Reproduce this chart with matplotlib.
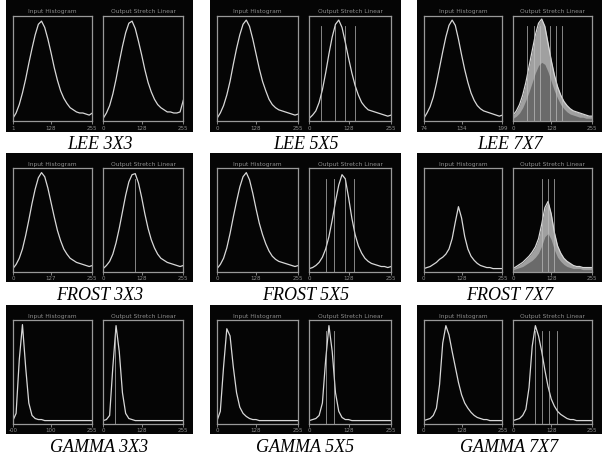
import matplotlib
matplotlib.use("Agg")
import matplotlib.pyplot as plt

# histogram bins, percent of the plotted grey range
bins = [0, 4, 8, 12, 16, 20, 24, 28, 32, 36, 40, 44, 48, 52, 56, 60, 64, 68, 72, 76, 80, 84, 88, 92, 96, 100]

captions = ["LEE 3X3", "LEE 5X5", "LEE 7X7",
            "FROST 3X3", "FROST 5X5", "FROST 7X7",
            "GAMMA 3X3", "GAMMA 5X5", "GAMMA 7X7"]

# input histograms (fraction of box height)
lee3_in   = [0.03, 0.08, 0.16, 0.27, 0.40, 0.55, 0.69, 0.82, 0.92, 0.95, 0.89, 0.78, 0.65, 0.51, 0.39, 0.29, 0.22, 0.17, 0.13, 0.11, 0.09, 0.08, 0.08, 0.07, 0.06, 0.08]
lee5_in   = [0.03, 0.08, 0.15, 0.25, 0.38, 0.54, 0.69, 0.82, 0.92, 0.96, 0.90, 0.78, 0.64, 0.50, 0.38, 0.29, 0.21, 0.16, 0.13, 0.11, 0.10, 0.09, 0.08, 0.07, 0.06, 0.07]
lee7_in   = [0.03, 0.08, 0.14, 0.23, 0.36, 0.51, 0.66, 0.80, 0.91, 0.96, 0.91, 0.78, 0.63, 0.49, 0.37, 0.27, 0.20, 0.15, 0.12, 0.10, 0.09, 0.08, 0.07, 0.06, 0.05, 0.06]
frost3_in = [0.03, 0.07, 0.13, 0.22, 0.35, 0.50, 0.66, 0.80, 0.91, 0.96, 0.92, 0.81, 0.67, 0.53, 0.40, 0.30, 0.22, 0.17, 0.13, 0.11, 0.09, 0.08, 0.07, 0.06, 0.05, 0.06]
frost5_in = [0.03, 0.07, 0.13, 0.23, 0.37, 0.53, 0.68, 0.82, 0.92, 0.96, 0.89, 0.76, 0.61, 0.47, 0.36, 0.27, 0.20, 0.15, 0.12, 0.10, 0.09, 0.08, 0.07, 0.06, 0.05, 0.06]
frost7_in = [0.03, 0.04, 0.05, 0.07, 0.09, 0.12, 0.14, 0.17, 0.22, 0.32, 0.48, 0.63, 0.52, 0.34, 0.22, 0.15, 0.11, 0.08, 0.06, 0.05, 0.04, 0.04, 0.03, 0.03, 0.03, 0.03]
gamma3_in = [0.03, 0.10, 0.62, 0.96, 0.55, 0.20, 0.08, 0.05, 0.04, 0.04, 0.03, 0.03, 0.03, 0.03, 0.03, 0.03, 0.03, 0.03, 0.03, 0.03, 0.03, 0.03, 0.03, 0.03, 0.03, 0.03]
gamma5_in = [0.03, 0.12, 0.55, 0.92, 0.85, 0.55, 0.30, 0.16, 0.10, 0.07, 0.05, 0.04, 0.04, 0.03, 0.03, 0.03, 0.03, 0.03, 0.03, 0.03, 0.03, 0.03, 0.03, 0.03, 0.03, 0.03]
gamma7_in = [0.03, 0.04, 0.05, 0.08, 0.15, 0.38, 0.78, 0.95, 0.86, 0.70, 0.55, 0.40, 0.28, 0.20, 0.15, 0.11, 0.08, 0.06, 0.05, 0.04, 0.04, 0.03, 0.03, 0.03, 0.03, 0.03]

# output (linear stretch) histograms
lee3_out   = [0.03, 0.08, 0.15, 0.26, 0.40, 0.56, 0.71, 0.84, 0.93, 0.95, 0.88, 0.76, 0.63, 0.49, 0.37, 0.28, 0.21, 0.16, 0.13, 0.11, 0.09, 0.09, 0.08, 0.08, 0.09, 0.20]
lee5_out   = [0.03, 0.06, 0.10, 0.18, 0.30, 0.46, 0.64, 0.80, 0.92, 0.96, 0.89, 0.75, 0.60, 0.46, 0.34, 0.25, 0.18, 0.14, 0.11, 0.10, 0.09, 0.08, 0.07, 0.06, 0.05, 0.06]
lee7_out   = [0.06, 0.10, 0.16, 0.25, 0.37, 0.52, 0.67, 0.82, 0.93, 0.97, 0.90, 0.74, 0.58, 0.44, 0.33, 0.25, 0.19, 0.15, 0.12, 0.10, 0.09, 0.08, 0.07, 0.06, 0.05, 0.05]
lee7_core  = [0.03, 0.05, 0.08, 0.13, 0.20, 0.28, 0.37, 0.46, 0.53, 0.56, 0.54, 0.47, 0.38, 0.29, 0.22, 0.16, 0.12, 0.09, 0.07, 0.06, 0.05, 0.04, 0.04, 0.03, 0.03, 0.03]
frost3_out = [0.03, 0.06, 0.10, 0.17, 0.28, 0.42, 0.58, 0.74, 0.87, 0.94, 0.95, 0.86, 0.72, 0.56, 0.42, 0.31, 0.23, 0.17, 0.13, 0.11, 0.09, 0.08, 0.07, 0.06, 0.05, 0.06]
frost5_out = [0.03, 0.04, 0.06, 0.09, 0.14, 0.22, 0.34, 0.50, 0.68, 0.84, 0.94, 0.90, 0.72, 0.52, 0.36, 0.25, 0.18, 0.13, 0.10, 0.08, 0.07, 0.06, 0.05, 0.05, 0.04, 0.05]
frost7_out = [0.03, 0.05, 0.07, 0.09, 0.12, 0.15, 0.19, 0.24, 0.32, 0.46, 0.62, 0.68, 0.56, 0.38, 0.25, 0.18, 0.13, 0.10, 0.08, 0.06, 0.05, 0.05, 0.04, 0.04, 0.04, 0.04]
frost7_core = [0.02, 0.03, 0.04, 0.05, 0.07, 0.09, 0.11, 0.14, 0.18, 0.25, 0.34, 0.37, 0.31, 0.21, 0.14, 0.10, 0.07, 0.05, 0.04, 0.03, 0.03, 0.03, 0.02, 0.02, 0.02, 0.02]
gamma3_out = [0.03, 0.04, 0.08, 0.55, 0.95, 0.70, 0.30, 0.10, 0.05, 0.04, 0.03, 0.03, 0.03, 0.03, 0.03, 0.03, 0.03, 0.03, 0.03, 0.03, 0.03, 0.03, 0.03, 0.03, 0.03, 0.03]
gamma5_out = [0.03, 0.04, 0.05, 0.08, 0.20, 0.62, 0.95, 0.70, 0.30, 0.12, 0.06, 0.04, 0.04, 0.03, 0.03, 0.03, 0.03, 0.03, 0.03, 0.03, 0.03, 0.03, 0.03, 0.03, 0.03, 0.03]
gamma7_out = [0.03, 0.04, 0.05, 0.08, 0.14, 0.35, 0.75, 0.95, 0.85, 0.70, 0.52, 0.36, 0.24, 0.17, 0.12, 0.09, 0.07, 0.05, 0.04, 0.04, 0.03, 0.03, 0.03, 0.03, 0.03, 0.03]

inputs = [lee3_in, lee5_in, lee7_in, frost3_in, frost5_in, frost7_in, gamma3_in, gamma5_in, gamma7_in]
outputs = [lee3_out, lee5_out, lee7_out, frost3_out, frost5_out, frost7_out, gamma3_out, gamma5_out, gamma7_out]
cores = [None, None, lee7_core, None, None, frost7_core, None, None, None]

# empty-bin gaps after the stretch (percent positions)
gaps = [[], [14, 31, 44, 56], [18, 26, 34, 46, 54, 62], [40], [20, 30, 44, 55], [36, 44, 52],
        [15], [20, 30], [28, 37, 45, 55]]

in_ticks = [["1", "128", "255"], ["0", "128", "255"], ["74", "134", "199"],
            ["0", "127", "255"], ["0", "128", "255"], ["0", "128", "255"],
            ["-00", "100", "255"], ["0", "128", "255"], ["0", "128", "255"]]
out_ticks = ["0", "128", "255"]

W, H = 605, 458
fig = plt.figure(figsize=(W / 100, H / 100), dpi=100, facecolor="white")

col_x = [(6, 193), (210, 401), (417, 602)]
row_y = [(0, 132), (153, 282), (305, 434)]
cap_y = [144, 296, 447]

frame_col = "#999999"
line_col = "#d8d8d8"
text_col = "#8c8c8c"


def box(ax, title, ticks):
    ax.set_facecolor("#050505")
    for s in ax.spines.values():
        s.set_color(frame_col)
        s.set_linewidth(0.9)
    ax.set_xlim(0, 100)
    ax.set_ylim(0, 1)
    ax.set_xticks([0, 48, 100])
    ax.set_xticklabels(ticks)
    ax.set_yticks([])
    ax.tick_params(axis="x", length=2, width=0.6, color=frame_col, pad=1,
                   labelsize=4, labelcolor=text_col)
    ax.set_title(title, fontsize=4.3, color=text_col, pad=2)


for i in range(9):
    r, c = divmod(i, 3)
    x0, x1 = col_x[c]
    y0, y1 = row_y[r]
    pw, ph = x1 - x0, y1 - y0
    bg = fig.add_axes([x0 / W, 1 - y1 / H, pw / W, ph / H])
    bg.set_facecolor("#050505")
    bg.set_xticks([])
    bg.set_yticks([])
    for s in bg.spines.values():
        s.set_visible(False)

    bx0 = 0.12 * ph
    bx1 = 0.92 * ph
    axl = fig.add_axes([(x0 + 0.037 * pw) / W, 1 - (y0 + bx1) / H, 0.425 * pw / W, (bx1 - bx0) / H])
    axr = fig.add_axes([(x0 + 0.52 * pw) / W, 1 - (y0 + bx1) / H, 0.428 * pw / W, (bx1 - bx0) / H])

    box(axl, "Input Histogram", in_ticks[i])
    box(axr, "Output Stretch Linear", out_ticks)

    axl.plot(bins, inputs[i], color=line_col, lw=0.9)
    if cores[i] is not None:
        axr.fill_between(bins, outputs[i], color="#a0a0a0", lw=0)
        axr.fill_between(bins, cores[i], color="#6a6a6a", lw=0)
    axr.plot(bins, outputs[i], color=line_col, lw=0.9)
    for g in gaps[i]:
        axr.axvline(g, ymin=0, ymax=0.9, color="#c0c0c0", lw=0.6, alpha=0.8)

    fig.text((x0 + x1) / 2 / W, 1 - cap_y[r] / H, captions[i], ha="center", va="center",
             fontsize=13, style="italic", family="Liberation Serif", color="black")

fig.savefig("out.png", dpi=100, facecolor="white")
